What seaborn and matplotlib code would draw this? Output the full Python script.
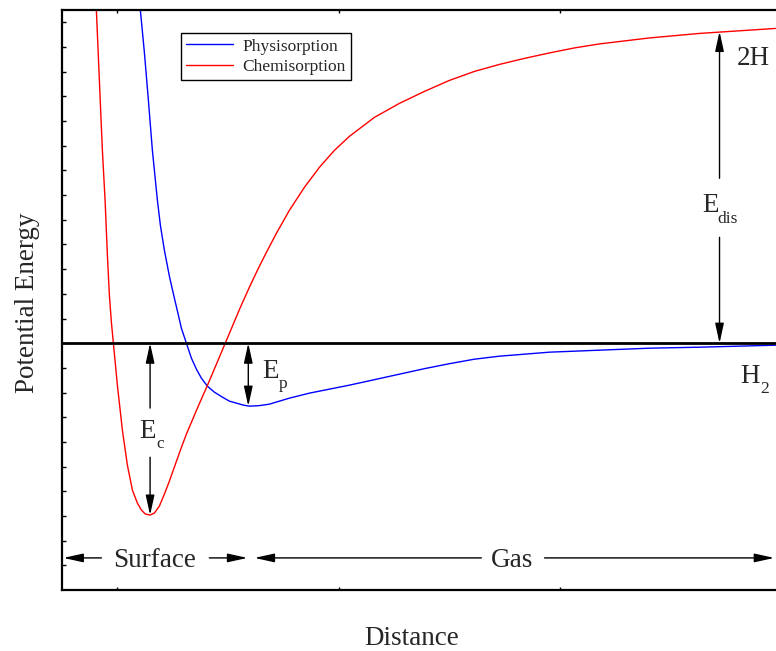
import matplotlib
matplotlib.use("Agg")
import matplotlib.pyplot as plt
import seaborn as sns
import pandas as pd
import numpy as np

# ---------------- data ----------------
series_names = ["Physisorption", "Chemisorption"]

phys_x = [1.0993, 1.1038, 1.1219, 1.1400, 1.1580, 1.1806, 1.1941, 1.2122, 1.2348,
          1.2573, 1.2754, 1.2889, 1.3115, 1.3341, 1.3567, 1.3792, 1.4063, 1.4379,
          1.4740, 1.5056, 1.5373, 1.5689, 1.5959, 1.6411, 1.6862, 1.7314, 1.7765,
          1.8668, 1.9571, 2.0474, 2.1603, 2.2731, 2.3860, 2.4989, 2.6118, 2.7246,
          2.9504, 3.1761, 3.4018, 3.6275, 3.9707]
phys_y = [14.292, 13.482, 11.781, 9.838, 7.814, 5.789, 4.777, 3.765, 2.713,
          1.822, 1.134, 0.607, 0.000, -0.607, -1.053, -1.417, -1.741, -1.984,
          -2.186, -2.348, -2.429, -2.510, -2.551, -2.530, -2.470, -2.348, -2.227,
          -2.024, -1.862, -1.700, -1.478, -1.255, -1.032, -0.830, -0.648, -0.526,
          -0.364, -0.283, -0.202, -0.162, -0.081]

chem_x = [0.9007, 0.9052, 0.9187, 0.9323, 0.9445, 0.9549, 0.9639, 0.9729, 0.9819,
          1.0000, 1.0226, 1.0451, 1.0677, 1.0903, 1.1084, 1.1264, 1.1476, 1.1670,
          1.1896, 1.2122, 1.2348, 1.2573, 1.2844, 1.3115, 1.3612, 1.4108, 1.4470,
          1.4831, 1.5192, 1.5553, 1.5959, 1.6321, 1.6682, 1.7178, 1.7765, 1.8443,
          1.9120, 1.9797, 2.0474, 2.1603, 2.2731, 2.3860, 2.4989, 2.6118, 2.7246,
          2.8375, 2.9504, 3.0632, 3.1761, 3.4018, 3.6275, 3.9707]
chem_y = [14.494, 13.482, 10.648, 7.814, 5.789, 3.563, 1.943, 0.850, 0.000,
          -1.700, -3.522, -4.939, -5.951, -6.478, -6.761, -6.923, -6.964, -6.883,
          -6.599, -6.113, -5.587, -5.020, -4.332, -3.684, -2.632, -1.619, -0.850,
          -0.081, 0.688, 1.457, 2.267, 2.955, 3.603, 4.453, 5.385, 6.316,
          7.126, 7.814, 8.381, 9.150, 9.717, 10.202, 10.648, 11.012, 11.296,
          11.539, 11.761, 11.964, 12.126, 12.368, 12.551, 12.753]

df = pd.concat([
    pd.DataFrame({"Distance": phys_x, "Energy": phys_y, "Type": series_names[0]}),
    pd.DataFrame({"Distance": chem_x, "Energy": chem_y, "Type": series_names[1]}),
], ignore_index=True)

# ---------------- style ----------------
sns.set_style("white")
plt.rcParams["font.family"] = ["Liberation Serif", "DejaVu Serif"]

fig = plt.figure(figsize=(7.76, 6.51), dpi=100)
ax = fig.add_axes([62 / 776, 61 / 651, 720 / 776, 580 / 651])

sns.lineplot(data=df, x="Distance", y="Energy", hue="Type", estimator=None,
             palette={"Physisorption": "#0000ff", "Chemisorption": "#ff0000"},
             linewidth=1.0, ax=ax, sort=True)

ax.set_xlim(0.75, 4.0)
ax.set_ylim(-10, 13.5)

# spines / ticks
for s in ["left", "top", "bottom"]:
    ax.spines[s].set_visible(True)
    ax.spines[s].set_linewidth(1.6)
    ax.spines[s].set_color("black")
ax.spines["right"].set_visible(False)

ax.set_yticks(np.arange(-9, 14, 1))
ax.set_xticks([1, 2, 3])
ax.tick_params(axis="y", direction="in", length=3, width=1, left=True, right=False,
               labelleft=False, color="black")
ax.tick_params(axis="x", direction="in", length=2, width=1, bottom=True, top=True,
               labelbottom=False, color="black")

ax.axhline(0, color="black", lw=2)

ax.set_xlabel("Distance", fontsize=19.5)
ax.set_ylabel("Potential Energy", fontsize=19.5)
ax.xaxis.set_label_coords(0.486, -0.062)
ax.yaxis.set_label_coords(-0.030, 0.495)

# legend
leg = ax.legend(loc="upper left", bbox_to_anchor=(0.165, 0.960), fontsize=12.5,
                frameon=True, fancybox=False, edgecolor="black", framealpha=1,
                handlelength=2.7, handletextpad=0.55, borderpad=0.3,
                labelspacing=0.25, borderaxespad=0, title=None)
leg.get_frame().set_linewidth(1.0)
for line in leg.get_lines():
    line.set_linewidth(1.0)

# ---------------- annotations ----------------
aprops = dict(arrowstyle="-|>,head_length=1.0,head_width=0.22", color="black",
              lw=1.0, shrinkA=0, shrinkB=0, mutation_scale=12)
dprops = dict(arrowstyle="<|-|>,head_length=1.0,head_width=0.22", color="black",
              lw=1.0, shrinkA=0, shrinkB=0, mutation_scale=12)

def arrow(x0, y0, x1, y1, props=aprops):
    ax.annotate("", xy=(x1, y1), xytext=(x0, y0), arrowprops=props,
                annotation_clip=False)

fs = 19.5
fs_sub = 12.5

def label_sub(x, y, main, sub, dx_px, dy_px=10):
    ax.text(x, y, main, fontsize=fs, ha="left", va="baseline")
    ax.annotate(sub, xy=(x, y), xytext=(dx_px * 0.72, -dy_px * 0.72),
                textcoords="offset points", fontsize=fs_sub, ha="left",
                va="baseline", annotation_clip=False)

# E_c
i_c = int(np.argmin(chem_y))
xc, yc = chem_x[i_c], chem_y[i_c]
arrow(xc, -2.63, xc, 0)
arrow(xc, -4.62, xc, yc)
label_sub(1.0993, -3.846, "E", "c", 16.5)

# E_p
i_p = int(np.argmin(phys_y))
xp, yp = phys_x[i_p] - 0.005, phys_y[i_p]
arrow(xp, 0, xp, yp, dprops)
label_sub(1.6546, -1.417, "E", "p", 16.5)

# E_dis
xd = 3.718
arrow(xd, 6.68, xd, 12.63)
arrow(xd, 4.29, xd, 0)
label_sub(3.641, 5.304, "E", "dis", 15, 11)

ax.text(3.795, 11.255, "2H", fontsize=fs, ha="left", va="baseline")
label_sub(3.812, -1.619, "H", "2", 20)

# Surface / Gas
yg = -8.70
arrow(0.928, yg, 0.756, yg)
arrow(1.415, yg, 1.587, yg)
ax.text(1.167, yg, "Surface", fontsize=fs, ha="center", va="center_baseline")
arrow(2.643, yg, 1.619, yg)
arrow(2.928, yg, 3.965, yg)
ax.text(2.783, yg, "Gas", fontsize=fs, ha="center", va="center_baseline")

fig.savefig("out.png", dpi=100)
